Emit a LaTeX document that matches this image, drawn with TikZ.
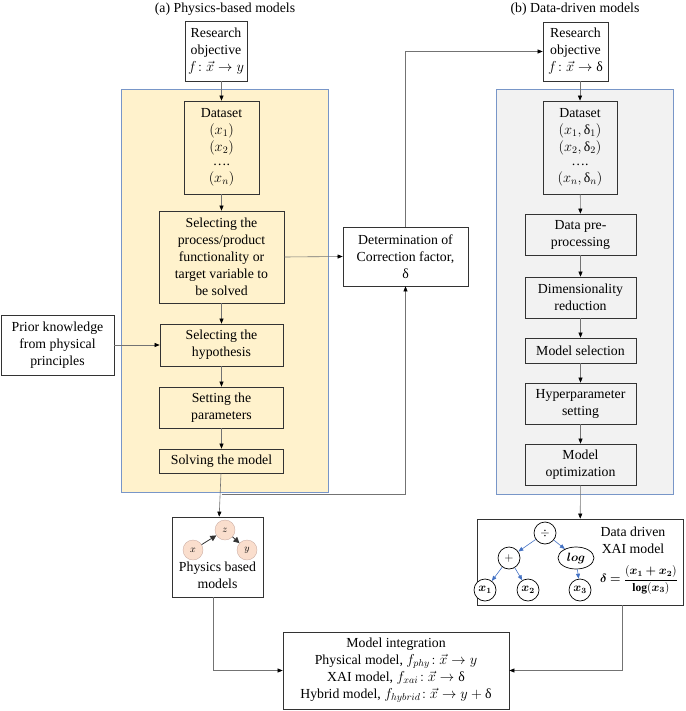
\documentclass[tikz,border=0pt]{standalone}
\usepackage{amsmath, bm}
\usepackage{fontspec}
\setmainfont{Liberation Serif}
\usetikzlibrary{arrows.meta, positioning, shapes.geometric}

\definecolor{panelblue}{RGB}{120,150,200}
\definecolor{paleyellow}{RGB}{255,242,204}
\definecolor{palegray}{RGB}{242,242,242}
\definecolor{peach}{RGB}{250,222,205}
\definecolor{peachline}{RGB}{205,175,165}
\definecolor{treeblue}{RGB}{68,114,196}

\begin{document}
\begin{tikzpicture}[
    x=1pt, y=-1pt,
    >={Triangle[length=5pt,width=4pt,color=black]},
    every node/.style={font=\fontsize{13.8}{17}\selectfont},
    blk/.style={draw=black!80, line width=0.7pt, align=center, inner sep=1pt},
    panel/.style={draw=panelblue, line width=0.8pt, inner sep=0pt},
    link/.style={->, draw=black!55, line width=0.6pt},
    var/.style={circle, draw=peachline, fill=peach, minimum size=20pt, inner sep=0pt, font=\fontsize{10}{12}\selectfont},
    op/.style={circle, draw=black, fill=white, line width=0.7pt, minimum size=22pt, inner sep=0pt, font=\fontsize{12}{14}\selectfont},
    tree/.style={-{Triangle[length=5pt,width=4pt]}, draw=treeblue, line width=0.6pt}
]
\useasboundingbox (0,0) rectangle (685,711);

% panels
\node[panel, fill=paleyellow, minimum width=207pt, minimum height=403pt] (panA) at (224.5,290.5) {};
\node[panel, fill=palegray, minimum width=177pt, minimum height=405pt] (panB) at (584.5,291.5) {};

% titles
\node (titA) at (225,9) {(a) Physics-based models};
\node (titB) at (575,9) {(b) Data-driven models};

% (a) physics-based column
\node[blk, minimum width=62pt, minimum height=60pt] (roA) at (216,51) {Research\\objective\\$f\!:\vec{x}\rightarrow y$};
\node[blk, minimum width=75pt, minimum height=93pt] (dsA) at (221.5,147.5) {Dataset\\$(x_1)$\\$(x_2)$\\[-3pt]\ldots.\\$(x_n)$};
\node[blk, minimum width=125pt, minimum height=92pt] (selA) at (221.5,257) {Selecting the\\process/product\\functionality or\\target variable to\\be solved};
\node[blk, minimum width=123pt, minimum height=42pt] (hypA) at (221.5,345) {Selecting the\\hypothesis};
\node[blk, minimum width=124pt, minimum height=41pt] (parA) at (221.5,407.5) {Setting the\\parameters};
\node[blk, minimum width=124pt, minimum height=24pt] (solA) at (221.5,461) {Solving the model};

\node[blk, minimum width=113pt, minimum height=60pt] (prior) at (57.5,345) {Prior knowledge\\from physical\\principles};
\node[blk, minimum width=125pt, minimum height=59pt] (corr) at (405.5,256.5) {Determination of\\Correction factor,\\δ};

% (b) data-driven column
\node[blk, minimum width=65pt, minimum height=59pt] (roB) at (575.5,51.5) {Research\\objective\\$f\!:\vec{x}\rightarrow{}$δ};
\node[blk, fill=palegray, minimum width=74pt, minimum height=93pt] (dsB) at (580,147.5) {Dataset\\$(x_1,\text{δ}_1)$\\$(x_2,\text{δ}_2)$\\[-3pt]\ldots.\\$(x_n,\text{δ}_n)$};
\node[blk, fill=palegray, minimum width=111pt, minimum height=41pt] (preB) at (580.5,234.5) {Data pre-\\processing};
\node[blk, fill=palegray, minimum width=111pt, minimum height=41pt] (dimB) at (580.5,297.5) {Dimensionality\\reduction};
\node[blk, fill=palegray, minimum width=111pt, minimum height=25pt] (selB) at (580.5,350.5) {Model selection};
\node[blk, fill=palegray, minimum width=111pt, minimum height=41pt] (hypB) at (580.5,403.5) {Hyperparameter\\setting};
\node[blk, fill=palegray, minimum width=111pt, minimum height=41pt] (optB) at (580.5,464.5) {Model\\optimization};

% physics based model box
\node[blk, minimum width=91pt, minimum height=80pt] (phys) at (217.5,557) {};
\node[align=center] (physTxt) at (217.5,575) {Physics based\\models};
\node[var] (gz) at (225,530) {$z$};
\node[var] (gx) at (193,550) {$x$};
\node[var] (gy) at (247,550) {$y$};
\draw[-{Triangle[length=6pt,width=6pt]}, draw=black!80, line width=0.8pt] (gx) -- (gz);
\draw[-{Triangle[length=6pt,width=6pt]}, draw=black!80, line width=0.8pt] (gz) -- (gy);

% XAI model box
\node[blk, minimum width=206pt, minimum height=86pt] (xai) at (580,562) {};
\node[op] (tDiv) at (545,533) {$\div$};
\node[op] (tPlus) at (509,558) {$+$};
\node[op, ellipse, minimum width=36pt, minimum height=22pt] (tLog) at (576,558) {$\bm{log}$};
\node[op] (tX1) at (485,590) {$\bm{x_1}$};
\node[op] (tX2) at (528,590) {$\bm{x_2}$};
\node[op] (tX3) at (580,590) {$\bm{x_3}$};
\draw[tree] (tDiv) -- (tPlus);
\draw[tree] (tDiv) -- (tLog);
\draw[tree] (tPlus) -- (tX1);
\draw[tree] (tPlus) -- (tX2);
\draw[tree] (tLog) -- (tX3);
\node[align=center] (xaiTxt) at (633,540) {Data driven\\XAI model};
\node[font=\fontsize{11.5}{14}\selectfont] (xaiEq) at (639,580) {$\bm{\delta}\bm{=}\displaystyle\frac{(\bm{x_1}\bm{+}\bm{x_2})}{\mathbf{log}(\bm{x_3})}$};

% integration
\node[blk, minimum width=226pt, minimum height=77pt] (integ) at (396,670.5) {Model integration\\Physical model, $f_{phy}\!:\vec{x}\rightarrow y$\\XAI model, $f_{xai}\!:\vec{x}\rightarrow{}$δ\\Hybrid model, $f_{hybrid}\!:\vec{x}\rightarrow y+{}$δ};

\coordinate (brA) at (221.5,494);

% connectors (a)
\draw[link] (dsA.north |- roA.south) -- (dsA.north);
\draw[link] (dsA) -- (selA);
\draw[link] (selA) -- (hypA);
\draw[link] (hypA) -- (parA);
\draw[link] (parA) -- (solA);
\draw[link] (solA) -- (phys);
\draw[link] (brA) -| (corr.south);
\draw[link] (prior.east) -- (hypA.west);
\draw[link] (selA.east) -- (corr.west);
\draw[link] (corr.north) |- (roB.west);

% connectors (b)
\draw[link] (dsB.north |- roB.south) -- (dsB.north);
\draw[link] (dsB) -- (preB);
\draw[link] (preB) -- (dimB);
\draw[link] (dimB) -- (selB);
\draw[link] (selB) -- (hypB);
\draw[link] (hypB) -- (optB);
\draw[link] (optB) -- (xai);

% to integration
\draw[link] ([xshift=-4pt]phys.south) |- (integ.west);
\draw[link] ([xshift=42pt]xai.south) |- (integ.east);

\end{tikzpicture}
\end{document}
